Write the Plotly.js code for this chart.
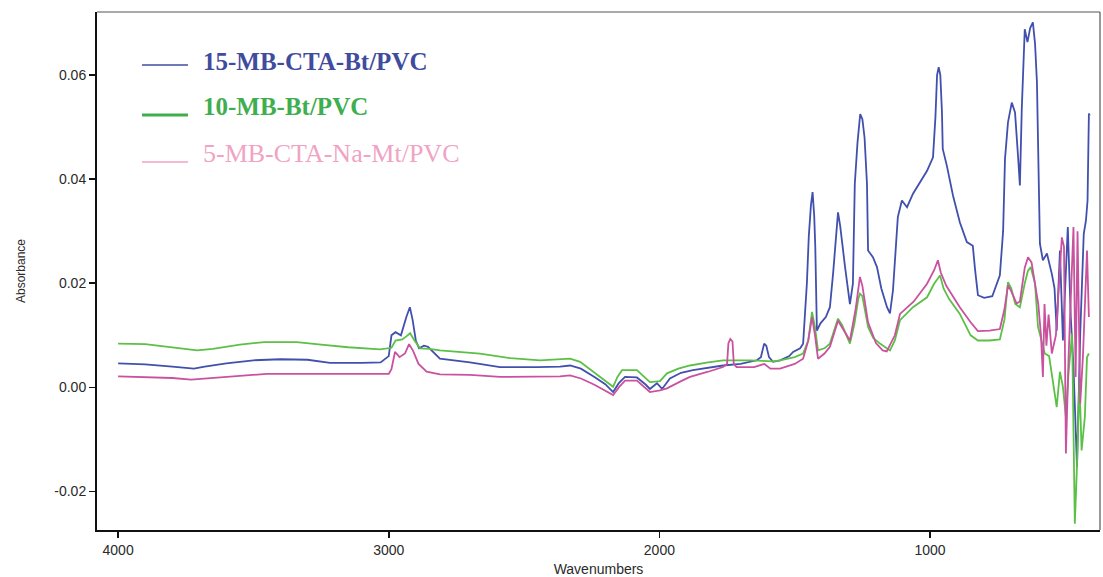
<!DOCTYPE html>
<html>
<head>
<meta charset="utf-8">
<script src="https://cdn.plot.ly/plotly-3.0.1.min.js"></script>
<style>
  html, body { margin: 0; padding: 0; background: #ffffff; }
  #chart { width: 1103px; height: 577px; }
</style>
</head>
<body>
<div id="chart"></div>
<script>
// FTIR absorbance spectra of the three clay/PVC composite films

const seriesNames = ["15-MB-CTA-Bt/PVC", "10-MB-Bt/PVC", "5-MB-CTA-Na-Mt/PVC"];

// 15-MB-CTA-Bt/PVC
const wnBt15 = [4000,3900,3800,3720,3680,3600,3500,3400,3300,3217,3100,3030,3000,2990,2975,2955,2935,2922,2912,2900,2888,2870,2855,2830,2811,2700,2589,2450,2367,2330,2290,2240,2200,2171,2150,2127,2083,2050,2035,2009,1990,1961,1920,1876,1800,1765,1700,1640,1625,1613,1605,1595,1580,1554,1520,1506,1480,1469,1455,1448,1440,1434,1428,1424,1418,1405,1385,1370,1358,1350,1340,1332,1322,1314,1296,1285,1278,1268,1258,1250,1242,1233,1229,1211,1196,1180,1159,1148,1137,1125,1119,1104,1085,1063,1040,1011,989,980,974,968,962,956,953,938,915,890,864,842,834,823,800,770,742,730,723,712,698,686,675,668,661,650,640,630,620,612,605,601,594,583,568,550,540,532,520,509,491,480,470,457,445,432,424,418,413,410];
const absBt15 = [0.0046,0.0044,0.0040,0.0036,0.0040,0.0046,0.0052,0.0054,0.0053,0.0047,0.0047,0.0048,0.0060,0.0100,0.0106,0.0100,0.0135,0.0154,0.0130,0.0090,0.0075,0.0080,0.0078,0.0065,0.0055,0.0048,0.0039,0.0039,0.0040,0.0042,0.0036,0.0020,0.0006,-0.0009,0.0008,0.0020,0.0019,0.0005,-0.0003,0.0008,-0.0003,0.0017,0.0028,0.0033,0.0040,0.0042,0.0045,0.0052,0.0058,0.0084,0.0080,0.0058,0.0049,0.0052,0.0060,0.0068,0.0075,0.0084,0.0200,0.0290,0.0350,0.0375,0.0330,0.0270,0.0109,0.0123,0.0135,0.0154,0.0220,0.0275,0.0336,0.0310,0.0260,0.0231,0.0160,0.0199,0.0391,0.0470,0.0525,0.0515,0.0480,0.0391,0.0263,0.0250,0.0231,0.0190,0.0154,0.0142,0.0186,0.0290,0.0327,0.0359,0.0346,0.0372,0.0392,0.0416,0.0442,0.0520,0.0600,0.0615,0.0600,0.0530,0.0458,0.0426,0.0368,0.0317,0.0279,0.0272,0.0228,0.0177,0.0172,0.0175,0.0215,0.0300,0.0439,0.0509,0.0547,0.0528,0.0445,0.0388,0.0535,0.0688,0.0663,0.0690,0.0701,0.0660,0.0586,0.0439,0.0276,0.0244,0.0257,0.0218,0.0190,0.0109,0.0263,0.0090,0.0308,0.0135,0.0039,-0.0153,0.0104,0.0295,0.0320,0.0359,0.0526,0.0522];

// 10-MB-Bt/PVC
const wnBt10 = [4000,3900,3800,3708,3650,3550,3460,3340,3250,3150,3032,2990,2975,2950,2935,2921,2905,2884,2850,2811,2663,2550,2441,2330,2293,2250,2200,2171,2155,2138,2083,2050,2035,1998,1972,1930,1887,1820,1765,1665,1580,1554,1500,1469,1450,1436,1425,1414,1390,1370,1350,1340,1325,1296,1280,1265,1259,1250,1229,1210,1185,1160,1148,1130,1111,1063,1011,985,963,950,930,890,850,823,780,742,725,712,700,685,668,650,638,628,612,601,576,560,546,532,520,509,498,488,475,465,457,448,440,428,420,413];
const absBt10 = [0.0084,0.0083,0.0077,0.0071,0.0074,0.0082,0.0087,0.0087,0.0082,0.0077,0.0073,0.0076,0.0090,0.0092,0.0098,0.0104,0.0090,0.0075,0.0074,0.0071,0.0065,0.0056,0.0052,0.0055,0.0049,0.0032,0.0014,0.0001,0.0020,0.0033,0.0033,0.0018,0.0010,0.0012,0.0027,0.0036,0.0042,0.0048,0.0052,0.0052,0.0050,0.0052,0.0058,0.0065,0.0090,0.0145,0.0115,0.0071,0.0075,0.0084,0.0115,0.0132,0.0120,0.0084,0.0120,0.0170,0.0180,0.0175,0.0116,0.0095,0.0084,0.0074,0.0071,0.0090,0.0129,0.0154,0.0173,0.0199,0.0215,0.0190,0.0170,0.0141,0.0100,0.0090,0.0090,0.0092,0.0130,0.0202,0.0190,0.0160,0.0154,0.0200,0.0224,0.0231,0.0199,0.0116,0.0065,0.0060,0.0007,-0.0038,0.0030,0.0001,-0.0057,0.0030,0.0104,-0.0262,-0.0150,0.0013,-0.0121,-0.0057,0.0058,0.0065];

// 5-MB-CTA-Na-Mt/PVC
const wnMt5 = [4000,3900,3800,3730,3650,3550,3450,3300,3100,3000,2990,2977,2960,2940,2925,2910,2890,2860,2811,2700,2589,2450,2367,2330,2290,2240,2200,2171,2150,2127,2083,2050,2035,1998,1972,1920,1887,1820,1765,1750,1745,1738,1730,1725,1715,1650,1612,1590,1554,1500,1469,1450,1436,1425,1414,1390,1370,1340,1320,1296,1275,1259,1250,1229,1200,1175,1160,1130,1111,1060,1011,985,971,960,940,890,850,823,780,742,725,712,700,680,668,650,638,625,600,590,583,577,570,562,550,535,513,505,498,488,470,462,455,445,435,420,413];
const absMt5 = [0.0021,0.0020,0.0018,0.0015,0.0018,0.0023,0.0026,0.0026,0.0026,0.0026,0.0035,0.0068,0.0058,0.0065,0.0083,0.0070,0.0045,0.0030,0.0025,0.0024,0.0020,0.0020,0.0021,0.0023,0.0017,0.0005,-0.0006,-0.0015,0.0000,0.0013,0.0013,-0.0003,-0.0009,-0.0006,-0.0002,0.0012,0.0020,0.0030,0.0039,0.0045,0.0085,0.0093,0.0088,0.0045,0.0039,0.0039,0.0045,0.0036,0.0036,0.0045,0.0055,0.0090,0.0135,0.0100,0.0055,0.0065,0.0078,0.0128,0.0110,0.0090,0.0150,0.0212,0.0195,0.0125,0.0085,0.0071,0.0069,0.0100,0.0141,0.0165,0.0199,0.0225,0.0244,0.0220,0.0195,0.0154,0.0125,0.0108,0.0109,0.0112,0.0150,0.0196,0.0185,0.0161,0.0165,0.0230,0.0250,0.0240,0.0160,0.0100,0.0020,0.0160,0.0080,0.0140,0.0065,0.0100,0.0288,0.0270,-0.0127,0.0060,0.0308,0.0020,0.0300,-0.0031,0.0060,0.0263,0.0135];

// axis ticks
const xTickVals = [4000, 3000, 2000, 1000];
const xTickText = ["4000", "3000", "2000", "1000"];
const yTickVals = [-0.02, 0, 0.02, 0.04, 0.06];
const yTickText = ["-0.02", "0.00", "0.02", "0.04", "0.06"];

const lineColors = ["#4150ad", "#5cc046", "#c9529f"];
const keyColors = ["#3f4c9e", "#3fae4f", "#f0a3c4"];
const keyWeights = ["bold", "bold", "normal"];
const keySizes = [25, 25, 26];

const traces = [
  { x: wnBt15, y: absBt15 },
  { x: wnBt10, y: absBt10 },
  { x: wnMt5, y: absMt5 }
].map((d, i) => ({
  type: "scatter",
  mode: "lines",
  name: seriesNames[i],
  x: d.x,
  y: d.y,
  line: { color: lineColors[i], width: 1.8 },
  showlegend: false,
  hoverinfo: "skip"
}));

// hand-placed key in the upper-left corner of the frame
const keyTextY = [0.9035, 0.8167, 0.7259];
const keyLineY = [0.8977, 0.8012, 0.7104];

const annotations = seriesNames.map((name, i) => ({
  xref: "paper", yref: "paper",
  x: 0.1037, y: keyTextY[i],
  xanchor: "left", yanchor: "middle",
  text: keyWeights[i] === "bold" ? "<b>" + name + "</b>" : name,
  showarrow: false,
  font: { family: "Liberation Serif, Times New Roman, serif", size: keySizes[i], color: keyColors[i] }
}));

const shapes = seriesNames.map((name, i) => ({
  type: "line", xref: "paper", yref: "paper",
  x0: 0.0449, x1: 0.0907, y0: keyLineY[i], y1: keyLineY[i],
  line: { color: keyColors[i], width: i === 1 ? 3 : 1.6 }
}));

// thin top and right frame edges
shapes.push({ type: "line", xref: "paper", yref: "paper", x0: 0, x1: 1, y0: 1, y1: 1, line: { color: "#555555", width: 1.2 } });
shapes.push({ type: "line", xref: "paper", yref: "paper", x0: 1, x1: 1, y0: 0, y1: 1, line: { color: "#555555", width: 1.2 } });

const layout = {
  width: 1103,
  height: 577,
  margin: { l: 97, r: 3, t: 12, b: 47 },
  paper_bgcolor: "#ffffff",
  plot_bgcolor: "#ffffff",
  font: { family: "Liberation Sans, Arial, sans-serif", color: "#2a2a2a" },
  xaxis: {
    range: [4078, 372],
    tickvals: xTickVals,
    ticktext: xTickText,
    ticks: "outside",
    ticklen: 6,
    tickwidth: 1.5,
    tickcolor: "#111111",
    showline: true,
    linecolor: "#111111",
    linewidth: 2,
    showgrid: false,
    zeroline: false,
    tickfont: { size: 14, color: "#2a2a2a" },
    title: { text: "Wavenumbers", font: { size: 14, color: "#2a2a2a" }, standoff: 11 }
  },
  yaxis: {
    range: [-0.0274, 0.0721],
    tickvals: yTickVals,
    ticktext: yTickText,
    ticks: "outside",
    ticklen: 6,
    tickwidth: 1.5,
    tickcolor: "#111111",
    showline: true,
    linecolor: "#111111",
    linewidth: 2,
    showgrid: false,
    zeroline: false,
    tickfont: { size: 14, color: "#2a2a2a" },
    title: { text: "Absorbance", font: { size: 12, color: "#2a2a2a" }, standoff: 26 }
  },
  annotations: annotations,
  shapes: shapes,
  showlegend: false
};

Plotly.newPlot("chart", traces, layout, { staticPlot: true, displayModeBar: false });
</script>
</body>
</html>
